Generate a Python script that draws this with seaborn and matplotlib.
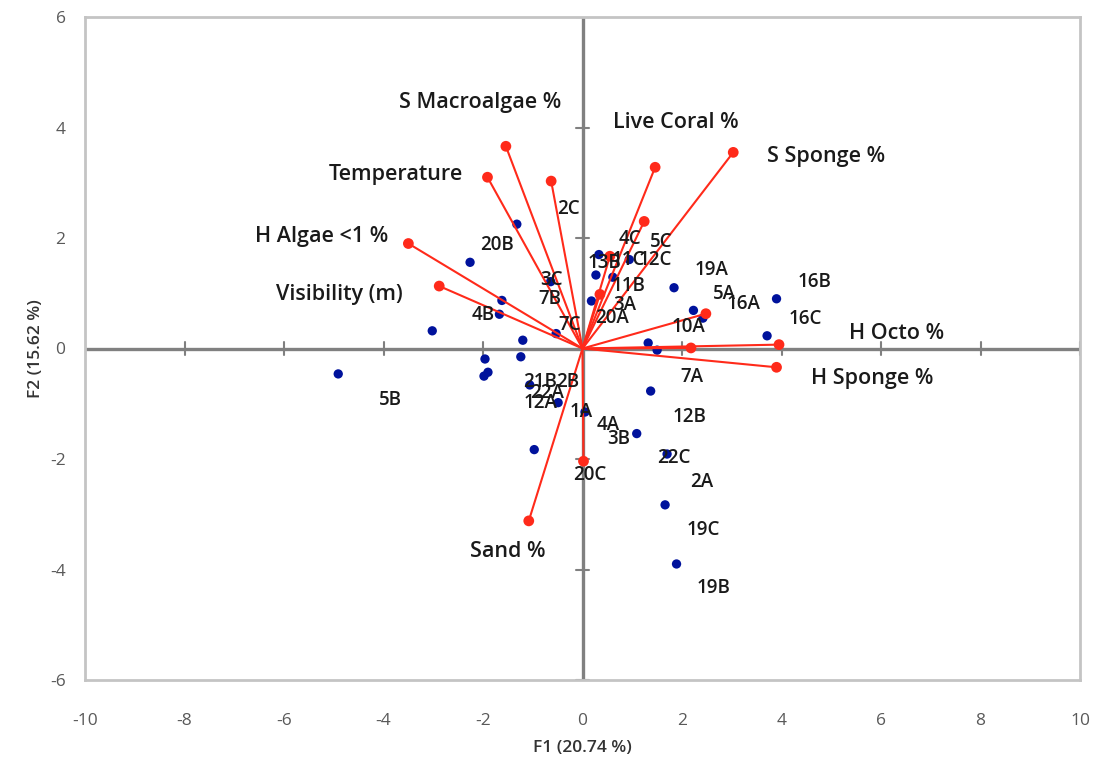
import matplotlib
matplotlib.use("Agg")
import matplotlib.pyplot as plt
import seaborn as sns
import pandas as pd

# Observation scores (F1, F2)
obs_x = [-4.91, -1.32, -2.26, -1.62, -1.67, -3.02, -0.53, -1.20, -1.96, -1.24,
         -1.90, -1.98, -1.06, -0.49, 0.05, 1.09, -0.97, 1.37, 1.70, 1.66,
         1.89, -0.64, 0.33, 0.27, 0.94, 0.61, 0.18, 1.84, 1.32, 1.50,
         2.23, 2.42, 3.90, 3.71]
obs_y = [-0.46, 2.25, 1.56, 0.87, 0.62, 0.32, 0.27, 0.15, -0.19, -0.15,
         -0.43, -0.50, -0.66, -0.98, -1.15, -1.54, -1.83, -0.77, -1.91, -2.83,
         -3.90, 1.21, 1.70, 1.33, 1.61, 1.29, 0.86, 1.10, 0.10, -0.03,
         0.69, 0.55, 0.90, 0.23]

# Observation names and where their labels sit
obs_names = ["5B", "20B", "2C", "4B", "7C", "3C", "7B", "13B", "4C", "5C",
             "11C", "12C", "11B", "3A", "20A", "19A", "5A", "16A", "16B", "10A",
             "16C", "7A", "12B", "21B", "2B", "22A", "12A", "1A", "4A", "3B",
             "22C", "20C", "2A", "19C", "19B"]
obs_lx = [-3.87, -1.72, -0.29, -1.99, -0.25, -0.62, -0.65, 0.45, 0.95, 1.59,
          0.91, 1.46, 0.92, 0.85, 0.59, 2.60, 2.86, 3.23, 4.67, 2.13,
          4.47, 2.19, 2.16, -0.85, -0.29, -0.72, -0.85, -0.02, 0.52, 0.72,
          1.83, 0.15, 2.40, 2.43, 2.63]
obs_ly = [-0.93, 1.87, 2.52, 0.60, 0.42, 1.24, 0.90, 1.54, 1.99, 1.93,
          1.61, 1.60, 1.14, 0.78, 0.56, 1.42, 0.99, 0.81, 1.20, 0.39,
          0.54, -0.51, -1.24, -0.60, -0.60, -0.81, -0.99, -1.15, -1.39, -1.63,
          -1.99, -2.29, -2.41, -3.29, -4.34]

# Variable loadings (vector ends)
var_x = [-1.54, -1.91, -0.63, -3.50, -2.88, 1.46, 1.24, 0.55, 0.35, 3.03,
         2.48, 2.18, 3.95, 3.90, 0.02, -1.08]
var_y = [3.66, 3.10, 3.03, 1.90, 1.13, 3.28, 2.30, 1.67, 0.98, 3.55,
         0.63, 0.01, 0.07, -0.34, -2.04, -3.12]

# Variable names and label positions
var_names = ["S Macroalgae %", "Temperature", "H Algae <1 %", "Visibility (m)",
             "Live Coral %", "S Sponge %", "H Octo %", "H Sponge %", "Sand %"]
var_lx = [-2.06, -3.75, -5.24, -4.89, 1.88, 4.90, 6.32, 5.82, -1.50]
var_ly = [4.45, 3.15, 2.03, 0.98, 4.09, 3.48, 0.28, -0.55, -3.67]

x_ticks = list(range(-10, 11, 2))
y_ticks = list(range(-6, 7, 2))

sns.set_theme(style="white")
plt.rcParams["font.family"] = ["Open Sans", "DejaVu Sans"]
plt.rcParams["axes.unicode_minus"] = False

fig = plt.figure(figsize=(11.02, 7.70), dpi=100)
ax = fig.add_axes([85 / 1102, 1 - 680 / 770, 995 / 1102, 663 / 770])

axis_grey = "#808080"
red = "#ff2a1a"
navy = "#00129c"

# zero axes with cross ticks
ax.axhline(0, color=axis_grey, lw=2.4, zorder=1)
ax.axvline(0, color=axis_grey, lw=2.4, zorder=1)
for t in x_ticks:
    ax.plot([t, t], [-0.12, 0.12], color=axis_grey, lw=1.5, zorder=1)
for t in y_ticks:
    ax.plot([-0.13, 0.13], [t, t], color=axis_grey, lw=1.5, zorder=1)

# observations
obs = pd.DataFrame({"F1": obs_x, "F2": obs_y})
sns.scatterplot(data=obs, x="F1", y="F2", color=navy, s=45, edgecolor="none",
                ax=ax, zorder=3)

# variable vectors
for vx, vy in zip(var_x, var_y):
    ax.plot([0, vx], [0, vy], color=red, lw=1.5, zorder=4)
var = pd.DataFrame({"F1": var_x, "F2": var_y})
sns.scatterplot(data=var, x="F1", y="F2", color=red, s=60, edgecolor="none",
                ax=ax, zorder=5)

# labels
for name, lx, ly in zip(obs_names, obs_lx, obs_ly):
    ax.text(lx, ly, name, ha="center", va="center", fontsize=13.5,
            fontweight="semibold", color="#1a1a1a", zorder=6)
for name, lx, ly in zip(var_names, var_lx, var_ly):
    ax.text(lx, ly, name, ha="center", va="center", fontsize=15.5,
            fontweight="semibold", color="#1a1a1a", zorder=6)

ax.set_xlim(-10, 10)
ax.set_ylim(-6, 6)
ax.set_xticks(x_ticks)
ax.set_yticks(y_ticks)
ax.tick_params(axis="both", length=0, labelsize=12.5, labelcolor="#595959")
ax.tick_params(axis="x", pad=24)
ax.tick_params(axis="y", pad=14)
for s in ax.spines.values():
    s.set_color("#c4c4c4")
    s.set_linewidth(2)
    s.set_visible(True)

ax.set_xlabel("F1 (20.74 %)", fontsize=12.5, fontweight="semibold",
              color="#333333", labelpad=8)
ax.set_ylabel("F2 (15.62 %)", fontsize=12.5, fontweight="semibold",
              color="#333333", labelpad=4)

fig.savefig("out.png", dpi=100)
